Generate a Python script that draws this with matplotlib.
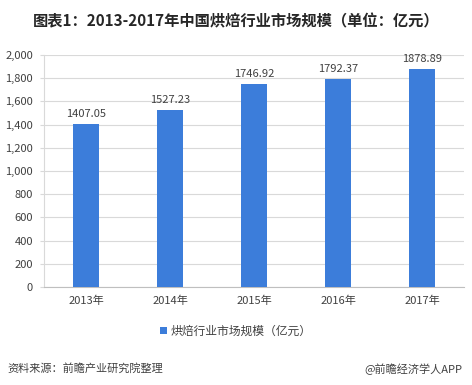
import matplotlib.pyplot as plt
import numpy as np

plt.rcParams['font.family'] = ['Noto Sans CJK SC', 'DejaVu Sans']

years = ["2013年", "2014年", "2015年", "2016年", "2017年"]
values = [1407.05, 1527.23, 1746.92, 1792.37, 1878.89]
yticks = [0, 200, 400, 600, 800, 1000, 1200, 1400, 1600, 1800, 2000]

BAR = "#3c7dda"

fig = plt.figure(figsize=(4.72, 3.85), dpi=100)
ax = fig.add_axes([44 / 472, 98 / 385, 420 / 472, 232 / 385])

x = np.arange(len(years))
bars = ax.bar(x, values, width=0.31, color=BAR, label="烘焙行业市场规模（亿元）", zorder=3)
for xi, v in zip(x, values):
    ax.text(xi, v + 45, f"{v:.2f}", ha="center", va="bottom", fontsize=8, color="#404040")

ax.set_xlim(-0.5, len(years) - 0.5)
ax.set_ylim(0, 2000)
ax.set_yticks(yticks)
ax.set_yticklabels([f"{t:,}" for t in yticks], fontsize=8, color="#404040")
ax.set_xticks(x)
ax.set_xticklabels(years, fontsize=8, color="#404040")
ax.grid(axis="y", color="#d9d9d9", lw=0.8, zorder=0)
for s in ["top", "right"]:
    ax.spines[s].set_visible(False)
ax.spines["left"].set_color("#d9d9d9")
ax.spines["bottom"].set_color("#bfbfbf")
ax.tick_params(axis="y", length=3, color="#d9d9d9", pad=5)
ax.tick_params(axis="x", length=0, pad=6)

fig.text(0.5, 0.945, "图表1：2013-2017年中国烘焙行业市场规模（单位：亿元）",
         ha="center", va="center", fontsize=11, fontweight="bold", color="#262626")

fig.legend(handles=[bars], loc="center", bbox_to_anchor=(0.5, 0.14), frameon=False,
           fontsize=8.5, handlelength=0.6, handleheight=0.6, handletextpad=0.3,
           labelcolor="#404040")

fig.text(0.015, 0.042, "资料来源：前瞻产业研究院整理", ha="left", va="center",
         fontsize=8, style="italic", color="#404040")
fig.text(0.98, 0.042, "@前瞻经济学人APP", ha="right", va="center",
         fontsize=8, color="#404040")

fig.savefig("out.png", dpi=100, facecolor="white")
